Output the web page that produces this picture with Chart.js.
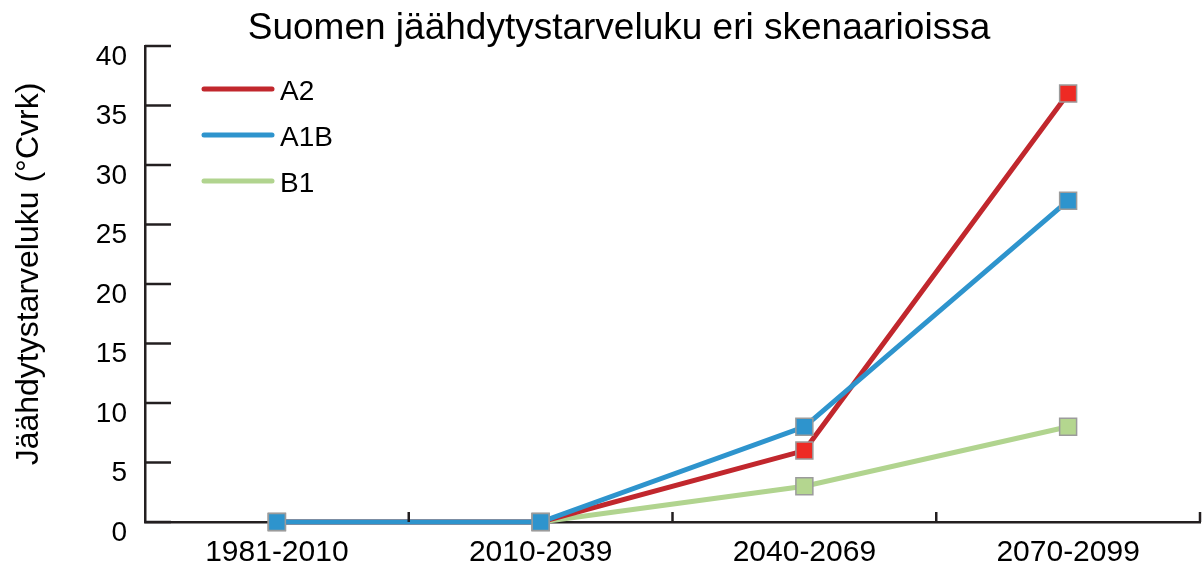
<!DOCTYPE html>
<html lang="fi">
<head>
    <meta charset="UTF-8">
    <title>Suomen jäähdytystarveluku eri skenaarioissa</title>
    <script src="https://cdn.jsdelivr.net/npm/chart.js"></script>
    <style>
        body {
            margin: 0;
            padding: 0;
            background: white;
            overflow: hidden;
        }
        canvas {
            display: block;
        }
    </style>
</head>
<body>
    <canvas id="myChart" width="1202" height="566"></canvas>
    <script>
        // Jaksot ja skenaarioiden arvot (°Cvrk)
        const periods = ['1981-2010', '2010-2039', '2040-2069', '2070-2099'];
        const a2Values = [0, 0, 6, 36];
        const a1bValues = [0, 0, 8, 27];
        const b1Values = [0, 0, 3, 8];
        const yTicks = [0, 5, 10, 15, 20, 25, 30, 35, 40];

        const chartTitle = 'Suomen jäähdytystarveluku eri skenaarioissa';
        const yTitle = 'Jäähdytystarveluku (°Cvrk)';
        const fontFamily = 'Arial, "Liberation Sans", sans-serif';
        const axisColor = '#231f20';

        // Otsikko, y-akselin nimi, sisäänpäin osoittavat tikit ja selite
        const decorations = {
            id: 'decorations',
            afterDraw(chart) {
                const ctx = chart.ctx;
                const area = chart.chartArea;
                const x = chart.scales.x;
                const y = chart.scales.y;
                ctx.save();

                ctx.fillStyle = '#000';
                ctx.font = '37px ' + fontFamily;
                ctx.textAlign = 'center';
                ctx.textBaseline = 'alphabetic';
                ctx.fillText(chartTitle, 619, 39);

                ctx.save();
                ctx.translate(38, 274);
                ctx.rotate(-Math.PI / 2);
                ctx.font = '32px ' + fontFamily;
                ctx.fillText(yTitle, 0, 0);
                ctx.restore();

                ctx.strokeStyle = axisColor;
                ctx.lineWidth = 2.5;
                yTicks.forEach(v => {
                    const py = y.getPixelForValue(v);
                    ctx.beginPath();
                    ctx.moveTo(area.left, py);
                    ctx.lineTo(area.left + 26, py);
                    ctx.stroke();
                });
                for (let i = 1; i <= periods.length; i++) {
                    const px = (x.getPixelForValue(i - 1) + x.getPixelForValue(i)) / 2;
                    ctx.beginPath();
                    ctx.moveTo(px, area.bottom);
                    ctx.lineTo(px, area.bottom - 10);
                    ctx.stroke();
                }

                ctx.lineCap = 'round';
                ctx.textAlign = 'left';
                ctx.font = '28px ' + fontFamily;
                chart.data.datasets.forEach((ds, i) => {
                    const ly = 89 + i * 46;
                    ctx.strokeStyle = ds.borderColor;
                    ctx.lineWidth = 5;
                    ctx.beginPath();
                    ctx.moveTo(204, ly);
                    ctx.lineTo(272, ly);
                    ctx.stroke();
                    ctx.fillStyle = '#000';
                    ctx.fillText(ds.label, 280, ly + 11);
                });
                ctx.restore();
            }
        };

        function series(label, data, lineColor, markerColor, order) {
            return {
                label: label,
                data: data,
                borderColor: lineColor,
                backgroundColor: markerColor,
                borderWidth: 5,
                pointStyle: 'rect',
                pointRadius: 12,
                pointHoverRadius: 12,
                pointBorderColor: '#9b9b9b',
                pointBorderWidth: 1.5,
                pointBackgroundColor: markerColor,
                tension: 0,
                order: order
            };
        }

        const ctx = document.getElementById('myChart').getContext('2d');
        new Chart(ctx, {
            type: 'line',
            data: {
                labels: periods,
                datasets: [
                    series('A2', a2Values, '#c1272d', '#ee2a24', 1),
                    series('A1B', a1bValues, '#2e94cd', '#2e94cd', 0),
                    series('B1', b1Values, '#b1d48f', '#b4d68f', 2)
                ]
            },
            options: {
                responsive: false,
                animation: false,
                clip: false,
                layout: {
                    autoPadding: false,
                    padding: { left: 0, right: 2, top: 46, bottom: 0 }
                },
                plugins: {
                    legend: { display: false },
                    title: { display: false },
                    tooltip: { enabled: false }
                },
                scales: {
                    x: {
                        offset: true,
                        grid: { display: false, drawTicks: false },
                        border: { display: true, color: axisColor, width: 2.5 },
                        ticks: {
                            color: '#000',
                            padding: 13,
                            maxRotation: 0,
                            autoSkip: false,
                            font: { size: 30, family: fontFamily }
                        },
                        afterFit: scale => {
                            scale.height = 44;
                            scale.paddingLeft = 0;
                            scale.paddingRight = 0;
                        }
                    },
                    y: {
                        min: 0,
                        max: 40,
                        afterBuildTicks: scale => {
                            scale.ticks = yTicks.map(v => ({ value: v }));
                        },
                        grid: { display: false, drawTicks: false },
                        border: { display: true, color: axisColor, width: 2.5 },
                        ticks: {
                            color: '#000',
                            padding: 18,
                            labelOffset: 11,
                            font: { size: 28, family: fontFamily }
                        },
                        afterFit: scale => {
                            scale.width = 145;
                            scale.paddingTop = 0;
                            scale.paddingBottom = 0;
                        }
                    }
                }
            },
            plugins: [decorations]
        });
    </script>
</body>
</html>
